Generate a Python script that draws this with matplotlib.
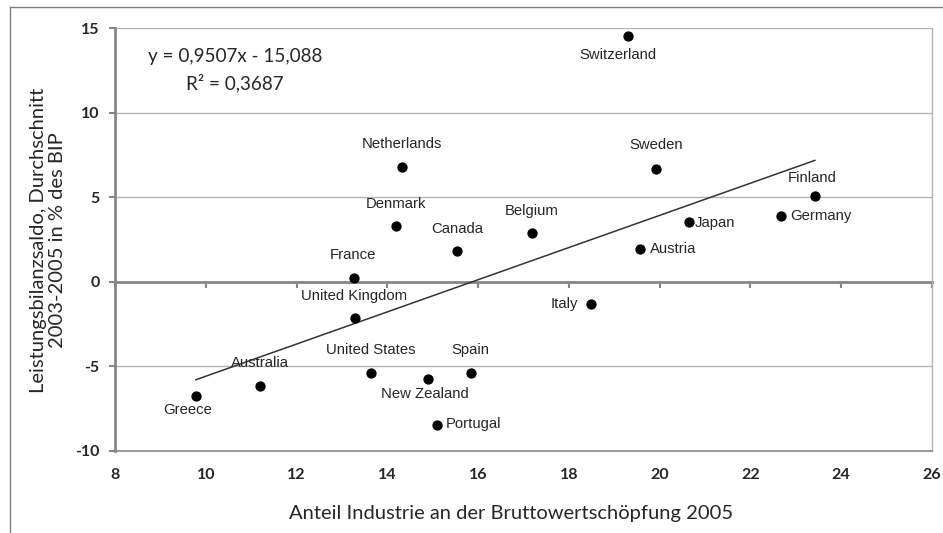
import matplotlib
matplotlib.use("Agg")
import matplotlib.pyplot as plt
from matplotlib.lines import Line2D
import numpy as np

# Industry share of gross value added 2005 vs. current account balance 2003-2005
countries = ["Switzerland", "Netherlands", "Sweden", "Finland", "Germany", "Japan",
             "Austria", "Denmark", "Canada", "Belgium", "France", "United Kingdom",
             "Italy", "United States", "Spain", "New Zealand", "Portugal", "Greece",
             "Australia"]
industry = [19.31, 14.32, 19.93, 23.42, 22.67, 20.65, 19.57, 14.19, 15.54, 17.18,
            13.27, 13.29, 18.49, 13.63, 15.84, 14.90, 15.10, 9.78, 11.19]
balance = [14.54, 6.80, 6.65, 5.09, 3.91, 3.55, 1.94, 3.32, 1.80, 2.88,
           0.21, -2.12, -1.33, -5.37, -5.41, -5.76, -8.46, -6.73, -6.14]

# Linear trend as reported by the regression
slope = 0.9507
intercept = -15.088
r_squared = 0.3687

x_ticks = [8, 10, 12, 14, 16, 18, 20, 22, 24, 26]
y_ticks = [-10, -5, 0, 5, 10, 15]

# Label placement: (dx, dy) in pixels, horizontal alignment
label_place = {
    "Switzerland": (-10, -19, "center"),
    "Netherlands": (0, 23, "center"),
    "Sweden": (0, 24, "center"),
    "Finland": (-3, 18, "center"),
    "Germany": (9, 0, "left"),
    "Japan": (6, -1, "left"),
    "Austria": (10, 0, "left"),
    "Denmark": (0, 22, "center"),
    "Canada": (0, 22, "center"),
    "Belgium": (0, 22, "center"),
    "France": (-1, 23, "center"),
    "United Kingdom": (-1, 22, "center"),
    "Italy": (-13, 0, "right"),
    "United States": (0, 23, "center"),
    "Spain": (0, 23, "center"),
    "New Zealand": (-3, -15, "center"),
    "Portugal": (8, 1, "left"),
    "Greece": (-8, -14, "center"),
    "Australia": (0, 23, "center"),
}

W, H = 943, 533
fig = plt.figure(figsize=(W / 100, H / 100), dpi=100)
fig.patch.set_facecolor("white")

# Outer chart frame (top and left edges)
frame_col = "#7f7f7f"
fig.add_artist(Line2D([10 / W, 1.0], [1 - 7 / H, 1 - 7 / H], transform=fig.transFigure,
                      color=frame_col, lw=1.0))
fig.add_artist(Line2D([10 / W, 10 / W], [0.0, 1 - 7 / H], transform=fig.transFigure,
                      color=frame_col, lw=1.0))

left, right, top, bottom = 115, 932, 28, 451
ax = fig.add_axes([left / W, 1 - bottom / H, (right - left) / W, (bottom - top) / H])
ax.set_xlim(8, 26)
ax.set_ylim(-10, 15)

grid_col = "#b3b3b3"
axis_col = "#868686"
for yv in y_ticks:
    if yv not in (0, -10):
        ax.axhline(yv, color=grid_col, lw=1.0, zorder=0)

ax.spines["top"].set_visible(False)
ax.spines["right"].set_color(grid_col)
ax.spines["right"].set_linewidth(1.0)
ax.spines["bottom"].set_color(axis_col)
ax.spines["bottom"].set_linewidth(1.2)
ax.spines["left"].set_color(axis_col)
ax.spines["left"].set_linewidth(2.0)

tick_font = dict(family="Lato", weight="bold", size=11.5)
ax.set_xticks(x_ticks)
ax.set_yticks(y_ticks)
ax.set_xticklabels([str(v) for v in x_ticks], fontdict=tick_font, color="#262626")
ax.set_yticklabels([str(v) for v in y_ticks], fontdict=tick_font, color="#262626")
ax.tick_params(axis="x", length=0, pad=12)
ax.tick_params(axis="y", direction="out", length=4, width=1.5, color=axis_col, pad=7)

# Horizontal axis line crossing at zero, with its tick marks
zero_frac = (0 - (-10)) / 25
sec = ax.secondary_xaxis(zero_frac)
sec.set_xticks(x_ticks)
sec.tick_params(axis="x", direction="out", length=4, width=1.5, color=axis_col,
                labelbottom=False)
sec.spines["bottom"].set_color(axis_col)
sec.spines["bottom"].set_linewidth(2.0)

# Trend line over the observed range
xs = np.array([min(industry), max(industry)])
ax.plot(xs, slope * xs + intercept, color="#333333", lw=1.1, zorder=3)

ax.scatter(industry, balance, s=55, color="black", zorder=4, linewidths=0)

for name, xv, yv in zip(countries, industry, balance):
    dx, dy, ha = label_place[name]
    ax.annotate(name, (xv, yv), xytext=(dx, dy), textcoords="offset pixels",
                ha=ha, va="center", family="Liberation Sans", size=10.7,
                color="#262626", zorder=5)

eq_font = dict(family="Lato", size=13.6, color="#262626")
ax.text(0.147, 0.932, f"y = {slope:.4f}x - {abs(intercept):.3f}".replace(".", ","),
        transform=ax.transAxes, ha="center", va="center", **eq_font)
ax.text(0.147, 0.870, f"R² = {r_squared:.4f}".replace(".", ","),
        transform=ax.transAxes, ha="center", va="center", **eq_font)

label_font = dict(family="Lato", size=14.5, color="#262626")
fig.text(511 / W, 1 - 513 / H, "Anteil Industrie an der Bruttowertschöpfung 2005",
         ha="center", va="center", **label_font)
fig.text(48 / W, 1 - 240 / H, "Leistungsbilanzsaldo, Durchschnitt\n2003-2005 in % des BIP",
         ha="center", va="center", rotation=90, multialignment="center",
         linespacing=1.15, **label_font)

fig.savefig("out.png", dpi=100, facecolor="white")
